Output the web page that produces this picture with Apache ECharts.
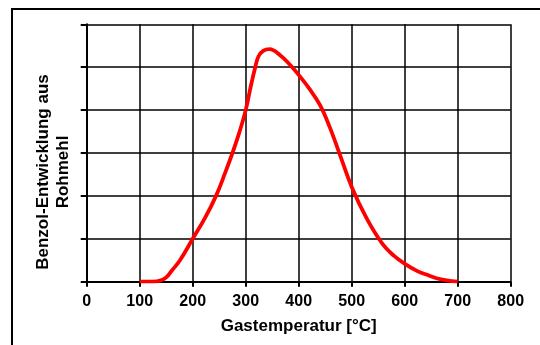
<!DOCTYPE html>
<html>
<head>
<meta charset="utf-8">
<script src="https://cdn.jsdelivr.net/npm/echarts@6/dist/echarts.min.js"></script>
<style>
  html, body { margin: 0; padding: 0; background: #fff; }
  #chart { width: 540px; height: 345px; }
</style>
</head>
<body>
<div id="chart"></div>
<script>
// Gastemperatur in °C
const temps = [100, 125, 140, 150, 160, 176, 200, 223, 244, 261, 275, 288, 300, 310, 318, 324, 333, 345,
  365, 384, 400, 420, 440, 458, 478, 500, 528, 557, 580, 601, 625, 642, 660, 679, 700];
// Benzol-Entwicklung (Rasterfelder, ohne Einheit)
const benzol = [0, 0, 0.03, 0.1, 0.25, 0.5, 1.0, 1.48, 2.0, 2.53, 3.0, 3.48, 4.0, 4.58, 5.0, 5.25, 5.38, 5.42,
  5.28, 5.05, 4.82, 4.5, 4.12, 3.62, 2.95, 2.21, 1.48, 0.9, 0.6, 0.41, 0.24, 0.16, 0.08, 0.03, 0];

const xTitle = 'Gastemperatur [°C]';
const yTitle = ['Benzol-Entwicklung aus', 'Rohmehl'];

const font = '"Liberation Sans", Arial, sans-serif';
const chart = echarts.init(document.getElementById('chart'));

chart.setOption({
  backgroundColor: '#fff',
  animation: false,
  grid: { left: 86.7, right: 29.3, top: 24.3, bottom: 63.3 },
  xAxis: {
    type: 'value',
    min: 0, max: 800, interval: 100,
    name: xTitle,
    nameLocation: 'middle',
    nameGap: 36,
    nameTextStyle: { fontFamily: font, fontWeight: 'bold', fontSize: 17, color: '#000' },
    axisLine: { show: true, lineStyle: { color: '#000', width: 2 } },
    axisTick: { show: true, length: 5, lineStyle: { color: '#000', width: 2 } },
    axisLabel: { margin: 12, fontFamily: font, fontWeight: 'bold', fontSize: 16, color: '#000' },
    splitLine: { show: true, lineStyle: { color: '#000', width: 1.5 } }
  },
  yAxis: {
    type: 'value',
    min: 0, max: 6, interval: 1,
    axisLine: { show: true, lineStyle: { color: '#000', width: 2 } },
    axisTick: { show: true, length: 6, lineStyle: { color: '#000', width: 2 } },
    axisLabel: { show: false },
    splitLine: { show: true, lineStyle: { color: '#000', width: 1.5 } }
  },
  graphic: [
    { type: 'polyline', shape: { points: [[12, 345], [12, 9], [540, 9]] },
      style: { stroke: '#000', lineWidth: 2, fill: null } },
    { type: 'text', x: 43, y: 172, rotation: Math.PI / 2,
      style: { text: yTitle[0], font: 'bold 17px ' + font, fill: '#000', align: 'center', verticalAlign: 'middle' } },
    { type: 'text', x: 63, y: 172, rotation: Math.PI / 2,
      style: { text: yTitle[1], font: 'bold 17px ' + font, fill: '#000', align: 'center', verticalAlign: 'middle' } }
  ],
  series: [{
    type: 'line',
    data: temps.map((t, i) => [t, benzol[i]]),
    smooth: 0.4,
    showSymbol: false,
    lineStyle: { color: '#ff0000', width: 3.8 },
    z: 5
  }]
});
</script>
</body>
</html>
